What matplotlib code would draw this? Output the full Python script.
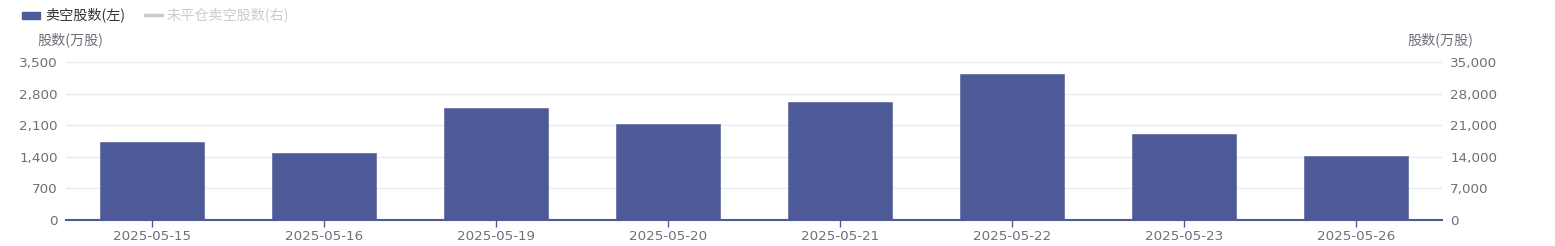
import matplotlib.pyplot as plt
from matplotlib.patches import Rectangle
from matplotlib.lines import Line2D
from matplotlib.ticker import FuncFormatter

plt.rcParams['font.family'] = ['Noto Sans CJK SC', 'DejaVu Sans']

dates = ['2025-05-15', '2025-05-16', '2025-05-19', '2025-05-20',
         '2025-05-21', '2025-05-22', '2025-05-23', '2025-05-26']
short_shares = [1730, 1495, 2485, 2130, 2615, 3240, 1895, 1415]
left_ticks = [0, 700, 1400, 2100, 2800, 3500]
right_ticks = [0, 7000, 14000, 21000, 28000, 35000]

bar_color = '#4D5A97'
text_color = '#6E7079'
grid_color = '#E9E9F3'
fs = 10.2      # chinese text
num_fs = 9.7   # numbers

W, H = 1555, 246
fig = plt.figure(figsize=(W / 100, H / 100), dpi=100)
ax = fig.add_axes([66 / W, 26 / H, (1442 - 66) / W, 158 / H])

x = range(len(dates))
ax.bar(x, short_shares, width=0.6, color=bar_color, edgecolor='#6B76A8',
       linewidth=0.6, zorder=3)
ax.set_xlim(-0.5, len(dates) - 0.5)
ax.set_ylim(0, 3500)
ax.set_yticks(left_ticks)
ax.yaxis.set_major_formatter(FuncFormatter(lambda v, p: f'{int(v):,}'))
ax.set_xticks(list(x))
ax.set_xticklabels(dates, family='DejaVu Sans')
for lab in ax.get_yticklabels():
    lab.set_family('DejaVu Sans')
ax.grid(axis='y', color=grid_color, linewidth=1, zorder=0)
for s in ['top', 'right', 'left']:
    ax.spines[s].set_visible(False)
ax.spines['bottom'].set_color(bar_color)
ax.spines['bottom'].set_linewidth(1.5)
ax.spines['bottom'].set_zorder(4)
ax.tick_params(axis='x', colors=bar_color, length=5, width=1, labelcolor=text_color,
               labelsize=num_fs, pad=2)
ax.tick_params(axis='y', length=0, labelcolor=text_color, labelsize=num_fs, pad=6)

ax2 = ax.twinx()
ax2.set_ylim(0, 35000)
ax2.set_yticks(right_ticks)
ax2.yaxis.set_major_formatter(FuncFormatter(lambda v, p: f'{int(v):,}'))
for lab in ax2.get_yticklabels():
    lab.set_family('DejaVu Sans')
for s in ['top', 'right', 'left', 'bottom']:
    ax2.spines[s].set_visible(False)
ax2.tick_params(axis='y', length=0, labelcolor=text_color, labelsize=num_fs, pad=6)

# axis names
fig.text(70 / W, 1 - 40 / H, '股数(万股)', ha='center', va='center',
         color=text_color, fontsize=fs)
fig.text(1440 / W, 1 - 40 / H, '股数(万股)', ha='center', va='center',
         color=text_color, fontsize=fs)

# legend
fig.patches.append(Rectangle((22 / W, 1 - 18.5 / H), 18 / W, 7 / H,
                             transform=fig.transFigure, color=bar_color))
fig.text(45 / W, 1 - 15 / H, '卖空股数(左)', ha='left', va='center',
         color='#333333', fontsize=fs)
fig.lines.append(Line2D([145 / W, 162 / W], [1 - 15 / H, 1 - 15 / H],
                        transform=fig.transFigure, color='#CCCCCC', linewidth=2.5))
fig.text(167 / W, 1 - 15 / H, '未平仓卖空股数(右)', ha='left', va='center',
         color='#CCCCCC', fontsize=fs)

fig.savefig('out.png', dpi=100)
